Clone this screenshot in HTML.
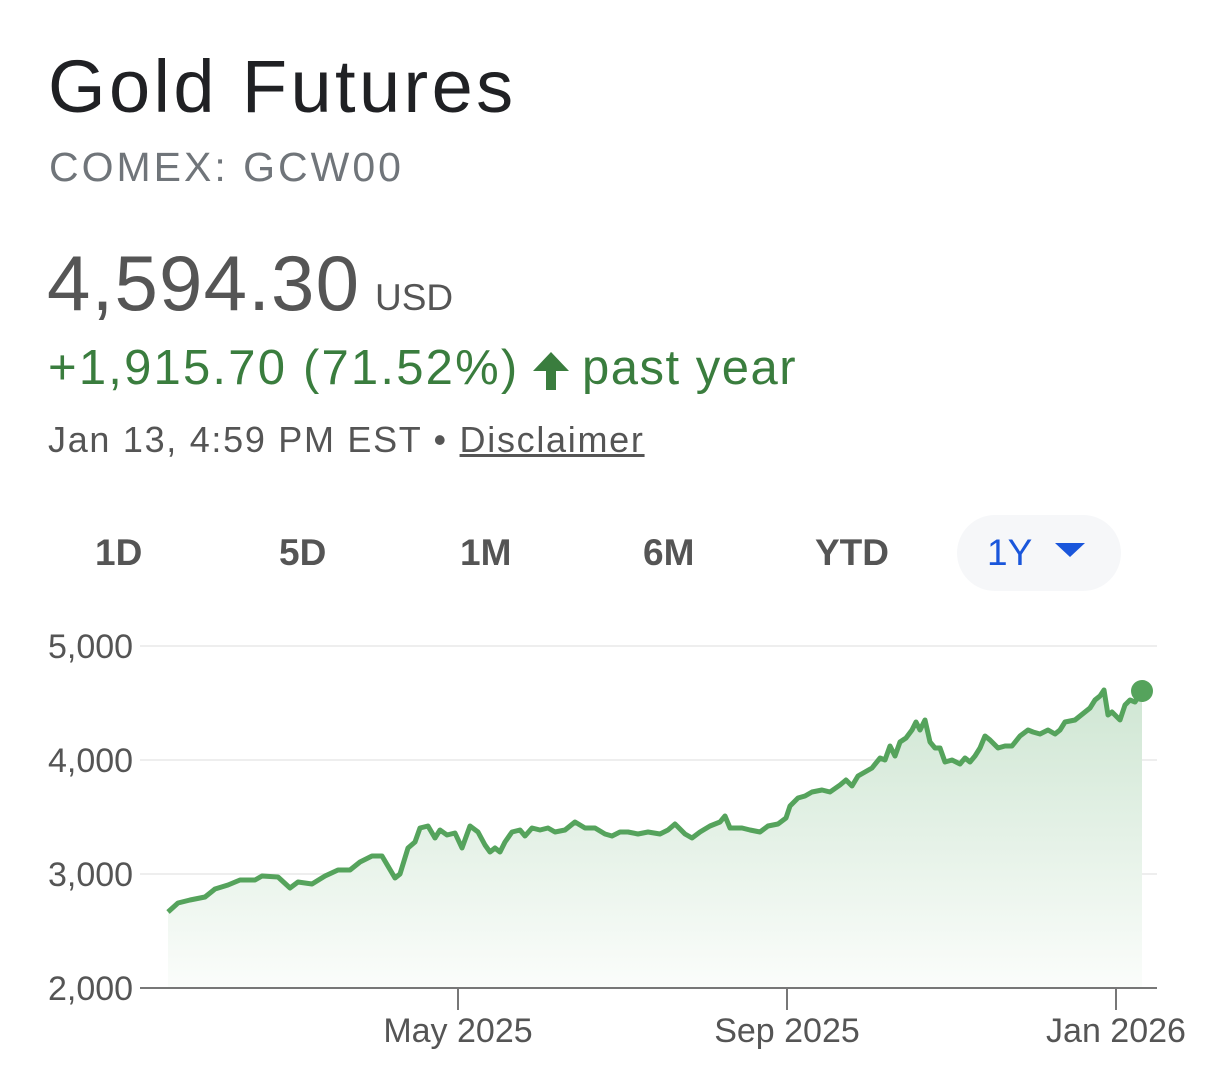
<!DOCTYPE html>
<html><head><style>
body{margin:0;width:1206px;height:1084px;background:#fff;font-family:"Liberation Sans",sans-serif;position:relative;overflow:hidden}
.t{position:absolute;white-space:nowrap}
</style></head><body>
<div class="t" style="left:48px;top:44px;font-size:74px;color:#202124;letter-spacing:3.4px">Gold Futures</div>
<div class="t" style="left:49px;top:144px;font-size:41px;color:#70757a;letter-spacing:3px">COMEX: GCW00</div>
<div class="t" style="left:47px;top:238px;font-size:78px;color:#555;letter-spacing:1.2px">4,594.30</div>
<div class="t" style="left:375px;top:277px;font-size:37px;color:#555">USD</div>
<div class="t" style="left:48px;top:340px;font-size:49px;color:#3a7d3e;letter-spacing:2.2px">+1,915.70 (71.52%)</div>
<div class="t" style="left:582px;top:340px;font-size:49px;color:#3a7d3e;letter-spacing:1.5px">past year</div>
<div class="t" style="left:48px;top:419px;font-size:36px;color:#555;letter-spacing:1.7px">Jan 13, 4:59 PM EST • <span style="text-decoration:underline">Disclaimer</span></div>
<div class="t" style="left:957px;top:515px;width:164px;height:76px;border-radius:38px;background:#f6f7f9"></div>
<div class="t" style="left:95px;top:532px;font-size:37px;color:#555;font-weight:bold">1D</div>
<div class="t" style="left:279px;top:532px;font-size:37px;color:#555;font-weight:bold">5D</div>
<div class="t" style="left:460px;top:532px;font-size:37px;color:#555;font-weight:bold">1M</div>
<div class="t" style="left:643px;top:532px;font-size:37px;color:#555;font-weight:bold">6M</div>
<div class="t" style="left:815px;top:532px;font-size:37px;color:#555;font-weight:bold">YTD</div>
<div class="t" style="left:987px;top:532px;font-size:37px;color:#1a56db">1Y</div>
<svg style="position:absolute;left:0;top:0" width="1206" height="1084">
<defs><linearGradient id="g" x1="0" y1="0" x2="0" y2="1"><stop offset="0" stop-color="#cfe6d3"/><stop offset="1" stop-color="#fbfdfb"/></linearGradient></defs>
<polygon points="533,371 551,352 569,371 556,371 556,390 546,390 546,371" fill="#3a7d3e"/>
<polygon points="1055,543 1085,543 1070,557" fill="#1a56db"/>
<g stroke="#eeeeee" stroke-width="2"><line x1="140" y1="646" x2="1157" y2="646"/><line x1="140" y1="760" x2="1157" y2="760"/><line x1="140" y1="874" x2="1157" y2="874"/></g>
<g font-size="34" fill="#555" font-family="Liberation Sans"><text x="48" y="658">5,000</text><text x="48" y="772">4,000</text><text x="48" y="886">3,000</text><text x="48" y="1000">2,000</text>
<text x="458" y="1042" text-anchor="middle">May 2025</text><text x="787" y="1042" text-anchor="middle">Sep 2025</text><text x="1116" y="1042" text-anchor="middle">Jan 2026</text></g>
<polygon fill="url(#g)" points="168,988 168,912 178,903 190,900 205,897 215,889 228,885 240,880 255,880 262,876 278,877 290,888 298,882 312,884 325,876 338,870 350,870 360,862 372,856 382,856 395,878 400,874 408,848 415,842 420,828 428,826 435,838 440,830 447,835 455,833 462,848 470,826 478,832 485,845 490,852 495,848 500,852 505,842 512,832 520,830 525,836 532,828 540,830 548,828 555,832 565,830 575,822 585,828 595,828 605,834 612,836 620,832 628,832 638,834 648,832 660,834 668,830 675,824 685,834 692,838 700,832 710,826 720,822 725,816 730,828 742,828 750,830 760,832 768,826 778,824 786,818 790,806 798,798 805,796 812,792 822,790 830,792 840,785 846,780 852,786 858,776 865,772 872,768 880,758 885,760 890,746 895,756 900,742 906,738 912,730 916,722 920,730 925,720 930,742 935,748 940,748 945,762 952,760 960,764 965,758 970,762 975,756 980,748 985,736 990,740 998,748 1005,746 1012,746 1020,736 1028,730 1033,732 1040,734 1048,730 1055,734 1060,730 1065,722 1075,720 1080,716 1085,712 1090,708 1095,700 1100,696 1104,690 1108,715 1112,712 1120,720 1125,705 1130,700 1135,702 1142,691 1142,988"/>
<polyline fill="none" stroke="#55a35c" stroke-width="5" stroke-linejoin="round" points="168,912 178,903 190,900 205,897 215,889 228,885 240,880 255,880 262,876 278,877 290,888 298,882 312,884 325,876 338,870 350,870 360,862 372,856 382,856 395,878 400,874 408,848 415,842 420,828 428,826 435,838 440,830 447,835 455,833 462,848 470,826 478,832 485,845 490,852 495,848 500,852 505,842 512,832 520,830 525,836 532,828 540,830 548,828 555,832 565,830 575,822 585,828 595,828 605,834 612,836 620,832 628,832 638,834 648,832 660,834 668,830 675,824 685,834 692,838 700,832 710,826 720,822 725,816 730,828 742,828 750,830 760,832 768,826 778,824 786,818 790,806 798,798 805,796 812,792 822,790 830,792 840,785 846,780 852,786 858,776 865,772 872,768 880,758 885,760 890,746 895,756 900,742 906,738 912,730 916,722 920,730 925,720 930,742 935,748 940,748 945,762 952,760 960,764 965,758 970,762 975,756 980,748 985,736 990,740 998,748 1005,746 1012,746 1020,736 1028,730 1033,732 1040,734 1048,730 1055,734 1060,730 1065,722 1075,720 1080,716 1085,712 1090,708 1095,700 1100,696 1104,690 1108,715 1112,712 1120,720 1125,705 1130,700 1135,702 1142,691"/>
<circle cx="1142" cy="691" r="11" fill="#55a35c"/>
<g stroke="#777" stroke-width="2"><line x1="140" y1="988" x2="1157" y2="988"/><line x1="458" y1="988" x2="458" y2="1010"/><line x1="787" y1="988" x2="787" y2="1010"/><line x1="1116" y1="988" x2="1116" y2="1010"/></g>
</svg>
</body></html>
